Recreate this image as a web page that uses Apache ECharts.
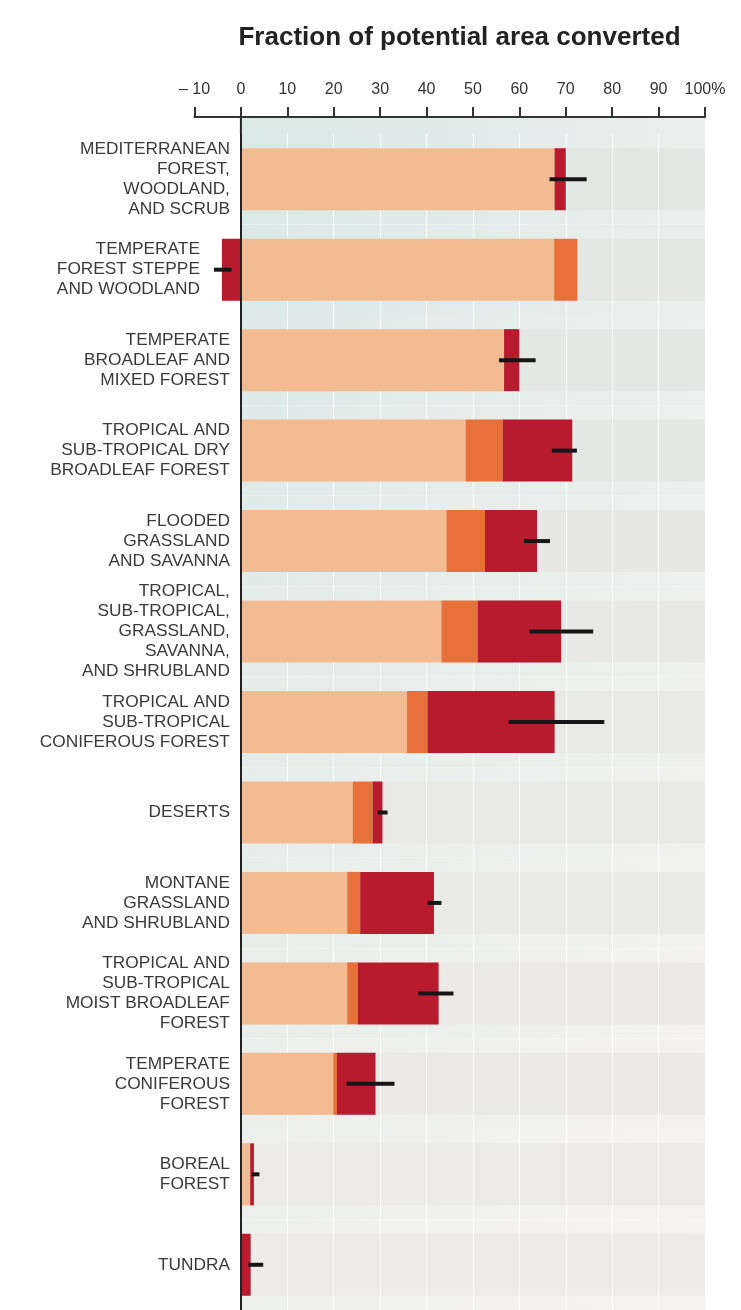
<!DOCTYPE html>
<html>
<head>
<meta charset="utf-8">
<script src="https://cdn.jsdelivr.net/npm/echarts@6/dist/echarts.min.js"></script>
<style>
html,body{margin:0;padding:0;background:#fff;}
#chart{width:741px;height:1310px;}
</style>
</head>
<body>
<div id="chart"></div>
<script>
// ---- data ----
const categories = [
  "MEDITERRANEAN\nFOREST,\nWOODLAND,\nAND SCRUB",
  "TEMPERATE\nFOREST STEPPE\nAND WOODLAND",
  "TEMPERATE\nBROADLEAF AND\nMIXED FOREST",
  "TROPICAL AND\nSUB-TROPICAL DRY\nBROADLEAF FOREST",
  "FLOODED\nGRASSLAND\nAND SAVANNA",
  "TROPICAL,\nSUB-TROPICAL,\nGRASSLAND,\nSAVANNA,\nAND SHRUBLAND",
  "TROPICAL AND\nSUB-TROPICAL\nCONIFEROUS FOREST",
  "DESERTS",
  "MONTANE\nGRASSLAND\nAND SHRUBLAND",
  "TROPICAL AND\nSUB-TROPICAL\nMOIST BROADLEAF\nFOREST",
  "TEMPERATE\nCONIFEROUS\nFOREST",
  "BOREAL\nFOREST",
  "TUNDRA"
];
// stacked segment lengths (percent of potential area)
const peachValues  = [67.6, 67.5, 56.7, 48.4, 44.3, 43.2, 35.8, 24.1, 22.9, 22.9, 19.9, 2.0, 0];
const orangeValues = [0.0,  5.0,  0.0,  8.0,  8.3,  7.8,  4.4,  4.3,  2.8,  2.3,  0.8, 0.0, 0];
const redValues    = [2.4, -4.1,  3.3, 15.0, 11.2, 18.0, 27.4,  2.1, 15.9, 17.4,  8.3, 0.8, 2.1];
// uncertainty ranges
const errLow  = [66.5, -5.8, 55.6, 67.0, 61.0, 62.2, 57.7, 29.5, 40.2, 38.2, 22.8, 2.3, 1.6];
const errHigh = [74.5, -2.0, 63.5, 72.4, 66.6, 75.9, 78.3, 31.6, 43.2, 45.8, 33.1, 4.0, 4.8];
const tickLabels = ["\u2013 10", "0", "10", "20", "30", "40", "50", "60", "70", "80", "90", "100%"];
const titleText = "Fraction of potential area converted";

// ---- style ----
const AXIS_OFFSET = 17;
const BAR_W = 62;
const GRID_LEFT = 194.5, GRID_RIGHT = 36;
const X_MIN = -10, X_MAX = 100;
const FONT = "'Liberation Sans', Arial, sans-serif";
const plotW = 741 - GRID_LEFT - GRID_RIGHT;
const zeroShift = (0 - X_MIN) / (X_MAX - X_MIN) * plotW;

function hex2rgb(h){h=h.replace('#','');return [parseInt(h.substr(0,2),16),parseInt(h.substr(2,2),16),parseInt(h.substr(4,2),16)];}
function mix(a,b,t){const A=hex2rgb(a),B=hex2rgb(b);return 'rgb('+A.map((v,k)=>Math.round(v+(B[k]-v)*t)).join(',')+')';}

const chart = echarts.init(document.getElementById('chart'), null, {renderer:'canvas'});

const bgData = categories.map((c, i) => [i, 0, 100]);
const errData = categories.map((c, i) => [i, errLow[i], errHigh[i]]);

const option = {
  backgroundColor: '#ffffff',
  animation: false,
  grid: { left: GRID_LEFT, right: GRID_RIGHT, top: 134, height: 1180, containLabel: false },
  graphic: [{
    type: 'text', x: 459.5, y: 38, z: 10,
    style: { text: titleText, textAlign: 'center', textVerticalAlign: 'middle',
      font: "bold 26px " + FONT, fill: '#222' }
  }],
  xAxis: {
    type: 'value', position: 'top', offset: AXIS_OFFSET,
    min: X_MIN, max: X_MAX, interval: 10, z: 2,
    axisLine: { show: true, onZero: false, lineStyle: { color: '#333', width: 2 } },
    axisTick: { show: true, length: 10, lineStyle: { color: '#333', width: 2 } },
    axisLabel: { margin: 19, fontSize: 16, fontFamily: FONT, color: '#333',
      formatter: (v, idx) => tickLabels[idx] },
    splitLine: { show: true, lineStyle: { color: 'rgba(255,255,255,0.75)', width: 1 } }
  },
  yAxis: {
    type: 'category', data: categories, inverse: true, z: 5,
    position: 'left', offset: -zeroShift,
    axisLine: { show: true, onZero: false, lineStyle: { color: '#222', width: 2 } },
    axisTick: { show: false },
    splitLine: { show: false },
    axisLabel: {
      margin: 11, fontSize: 17.3, lineHeight: 20, fontFamily: FONT, color: '#3a3a3a',
      formatter: (v, idx) => idx === 1 ? '{p|' + v + '}' : v,
      rich: { p: { padding: [0, 30, 0, 0], fontSize: 17.3, lineHeight: 20, fontFamily: FONT, color: '#3a3a3a' } }
    }
  },
  series: [
    {
      type: 'custom', name: 'background', z: 1, silent: true,
      encode: { x: [1, 2], y: 0 },
      data: bgData,
      renderItem: function (params, api) {
        const i = api.value(0);
        const t = i / (categories.length - 1);
        const p0 = api.coord([0, i]);
        const p1 = api.coord([100, i]);
        const bandH = api.size([0, 1])[1];
        const cs = params.coordSys;
        let top = p0[1] - bandH / 2;
        const bottom = p0[1] + bandH / 2;
        if (i === 0) top = cs.y - AXIS_OFFSET;
        const gL = mix('#d9e9e6', '#eef0ec', t);
        const gR = mix('#e9efed', '#f6f3f0', t);
        const stripe = mix('#e3e7e4', '#eeebe8', t);
        const children = [
          { type: 'rect', shape: { x: p0[0], y: top, width: p1[0] - p0[0], height: bottom - top },
            style: { fill: { type: 'linear', x: 0, y: 0, x2: 1, y2: 0,
              colorStops: [{ offset: 0, color: gL }, { offset: 1, color: gR }] } } },
          { type: 'rect', shape: { x: p0[0], y: p0[1] - BAR_W / 2, width: p1[0] - p0[0], height: BAR_W },
            style: { fill: stripe } }
        ];
        if (i === 0) {
          children.push({ type: 'line', shape: { x1: p0[0], y1: cs.y - AXIS_OFFSET, x2: p0[0], y2: cs.y },
            style: { stroke: '#222', lineWidth: 2 } });
        }
        return { type: 'group', children: children };
      }
    },
    { type: 'bar', name: 'peach', stack: 'total', barWidth: BAR_W, z: 3,
      itemStyle: { color: '#f2bb91' }, data: peachValues },
    { type: 'bar', name: 'orange', stack: 'total', barWidth: BAR_W, z: 3,
      itemStyle: { color: '#e8703b' }, data: orangeValues },
    { type: 'bar', name: 'red', stack: 'total', barWidth: BAR_W, z: 3,
      itemStyle: { color: '#b81a2e' }, data: redValues },
    {
      type: 'custom', name: 'range', z: 4, silent: true,
      encode: { x: [1, 2], y: 0 },
      data: errData,
      renderItem: function (params, api) {
        const i = api.value(0);
        const a = api.coord([api.value(1), i]);
        const b = api.coord([api.value(2), i]);
        return { type: 'line', shape: { x1: a[0], y1: a[1], x2: b[0], y2: b[1] },
          style: { stroke: '#161616', lineWidth: 4 } };
      }
    }
  ]
};
chart.setOption(option);
</script>
</body>
</html>
